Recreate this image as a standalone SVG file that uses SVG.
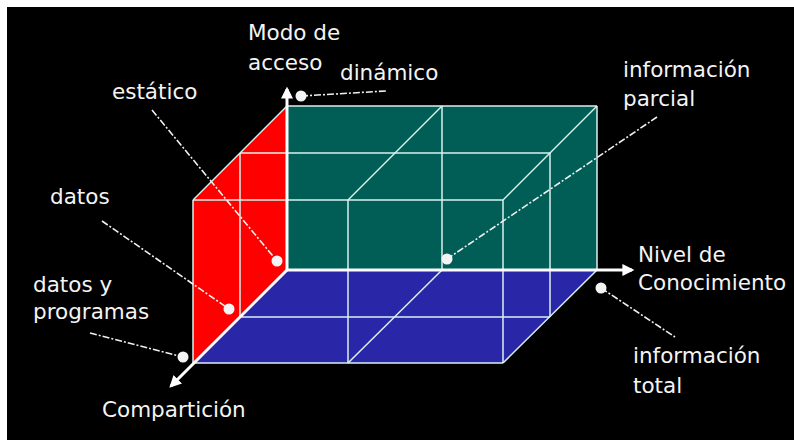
<svg xmlns="http://www.w3.org/2000/svg" width="794" height="440" viewBox="0 0 794 440">
<defs>
<style>
.lbl{font-family:"DejaVu Sans","Liberation Sans",sans-serif;font-size:21.5px;fill:#f4f4f4}
.grid{stroke:#d8f2ee;stroke-width:1.5;fill:none}
.axis{stroke:#ffffff;stroke-width:3;fill:none}
.lead{stroke:#f0f0f0;stroke-width:1.6;fill:none;stroke-dasharray:7 2 2 2}
.dot{fill:#f4f4f4}
</style>
<marker id="arr" viewBox="0 0 10 10" refX="8" refY="5" markerWidth="4" markerHeight="4" orient="auto" markerUnits="strokeWidth">
<path d="M0,0 L10,5 L0,10 z" fill="#ffffff"/>
</marker>
</defs>
<rect x="0" y="0" width="794" height="440" fill="#ffffff"/>
<rect x="7" y="7" width="787" height="433" fill="#000000"/>

<g id="faces">
<polygon points="287,106 287,270 193,363 193,200" fill="#ff0000"/>
<rect x="287" y="106" width="310" height="164" fill="#005e56"/>
<polygon points="287,270 597,270 503,363 193,363" fill="#2a26a8"/>
</g>

<g id="grid">
<line class="grid" x1="287" y1="106" x2="597" y2="106"/>
<line class="grid" x1="597" y1="106" x2="597" y2="270"/>
<line class="grid" x1="442" y1="106" x2="442" y2="270"/>
<line class="grid" x1="597" y1="106" x2="503" y2="200"/>
<line class="grid" x1="442" y1="106" x2="348" y2="200"/>
<line class="grid" x1="287" y1="106" x2="193" y2="200"/>
<line class="grid" x1="240" y1="153" x2="550" y2="153"/>
<line class="grid" x1="550" y1="153" x2="550" y2="317"/>
<line class="grid" x1="240" y1="317" x2="550" y2="317"/>
<line class="grid" x1="240" y1="153" x2="240" y2="317"/>
<line class="grid" x1="193" y1="200" x2="503" y2="200"/>
<line class="grid" x1="503" y1="200" x2="503" y2="363"/>
<line class="grid" x1="193" y1="200" x2="193" y2="363"/>
<line class="grid" x1="193" y1="363" x2="503" y2="363"/>
<line class="grid" x1="348" y1="200" x2="348" y2="363"/>
<line class="grid" x1="442" y1="270" x2="348" y2="363"/>
<line class="grid" x1="597" y1="270" x2="503" y2="363"/>
</g>

<g id="axes">
<line class="axis" x1="287" y1="270" x2="287" y2="89" marker-end="url(#arr)"/>
<line class="axis" x1="287" y1="270" x2="632" y2="270" marker-end="url(#arr)"/>
<line class="axis" x1="287" y1="270" x2="171" y2="386" marker-end="url(#arr)"/>
</g>

<g id="connectors">
<line class="lead" x1="301" y1="96" x2="386" y2="91"/>
<line class="lead" x1="152" y1="110" x2="277" y2="261"/>
<line class="lead" x1="102" y1="221" x2="229" y2="309"/>
<line class="lead" x1="90" y1="333" x2="183" y2="357"/>
<line class="lead" x1="657" y1="117" x2="447" y2="259"/>
<line class="lead" x1="601" y1="288" x2="675" y2="337"/>
</g>

<g id="dots">
<circle class="dot" cx="301" cy="96" r="5.5"/>
<circle class="dot" cx="277" cy="261" r="5.5"/>
<circle class="dot" cx="229" cy="309" r="5.5"/>
<circle class="dot" cx="183" cy="357" r="5.5"/>
<circle class="dot" cx="447" cy="259" r="5.5"/>
<circle class="dot" cx="601" cy="288" r="5.5"/>
</g>

<g id="label-modo"><text class="lbl" x="248" y="40">Modo de</text><text class="lbl" x="248" y="70">acceso</text></g>
<g id="label-dinamico"><text class="lbl" x="340" y="80">dinámico</text></g>
<g id="label-estatico"><text class="lbl" x="112" y="99">estático</text></g>
<g id="label-datos"><text class="lbl" x="50" y="204">datos</text></g>
<g id="label-datosprog"><text class="lbl" x="33" y="292">datos y</text><text class="lbl" x="33" y="319">programas</text></g>
<g id="label-comparticion"><text class="lbl" x="102" y="417">Compartición</text></g>
<g id="label-parcial"><text class="lbl" x="623" y="77">información</text><text class="lbl" x="623" y="106">parcial</text></g>
<g id="label-nivel"><text class="lbl" x="638" y="262">Nivel de</text><text class="lbl" x="638" y="290">Conocimiento</text></g>
<g id="label-total"><text class="lbl" x="633" y="363">información</text><text class="lbl" x="633" y="393">total</text></g>
</svg>
